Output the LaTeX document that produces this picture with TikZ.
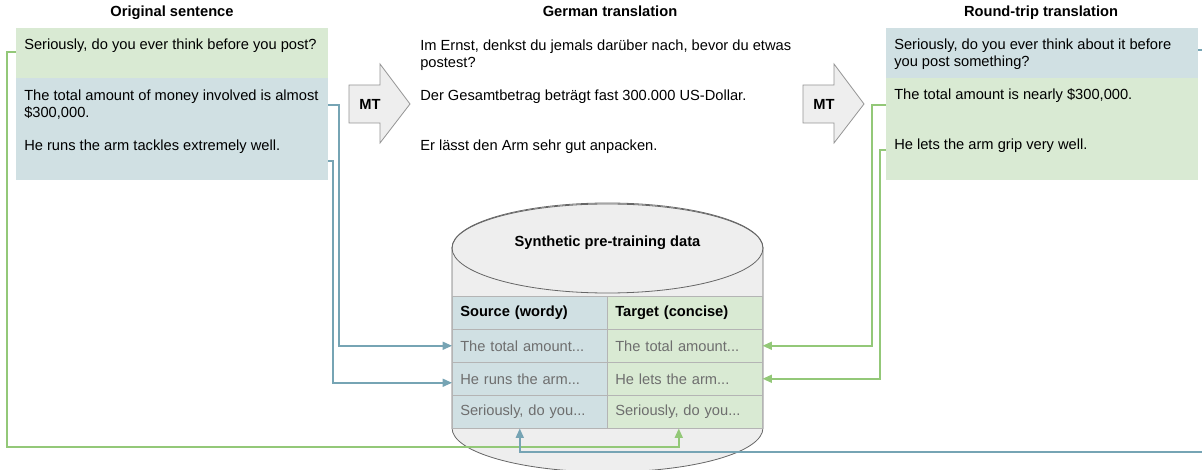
\documentclass[tikz,border=0pt]{standalone}
\usepackage{fontspec}
\setmainfont{Liberation Sans}
\usepackage{tikz}
\usetikzlibrary{arrows.meta}
\definecolor{bluebox}{RGB}{208, 224, 227}
\definecolor{greenbox}{RGB}{217, 234, 211}
\definecolor{blueline}{RGB}{118, 164, 180}
\definecolor{greenline}{RGB}{147, 200, 120}
\definecolor{cyl}{RGB}{238, 238, 238}
\definecolor{edge}{RGB}{102, 102, 102}
\definecolor{grid}{RGB}{180, 180, 180}
\definecolor{faded}{RGB}{110, 110, 110}

\begin{document}
\begin{tikzpicture}[x=0.75pt, y=-0.75pt, font=\fontsize{11}{12.75}\selectfont,
  txt/.style={anchor=base west, inner sep=0pt, align=left},
  head/.style={anchor=base, inner sep=0pt, font=\fontsize{11}{12}\selectfont\bfseries},
  cell/.style={anchor=north west, draw=grid, minimum height=24.75pt, text width=104.25pt,
    inner xsep=6pt, align=left, text=faded},
  link/.style={line width=1.2pt, -{Triangle[length=7pt, width=6pt]}}]
  \clip (0,0) rectangle (1202,470);

  % Titles
  \node [head] (t1) at (172,17) {Original sentence};
  \node [head] (t2) at (610,17) {German translation};
  \node [head] (t3) at (1041,17) {Round-trip translation};

  % Original
  \fill [greenbox] (16,28) rectangle (328,78);
  \fill [bluebox] (16,78) rectangle (328,180);
  \node [txt] (o1t) at (24,50) {Seriously, do you ever think before you post?};
  \node [txt, anchor=north west] (o2t) at (24,89.5) {The total amount of money involved is almost\\\$300,000.};
  \node [txt] (o3t) at (24,151) {He runs the arm tackles extremely well.};

  % MT arrows
  \filldraw [fill=cyl, draw=edge!70, line width=0.6pt] (349,85) -- (380,85) -- (380,64) -- (410,104)
    -- (380,143) -- (380,123) -- (349,123) -- cycle;
  \node [head, anchor=center] (mt1) at (370,104) {MT};
  \filldraw [fill=cyl, draw=edge!70, line width=0.6pt] (803,85) -- (834,85) -- (834,64) -- (864,104)
    -- (834,143) -- (834,123) -- (803,123) -- cycle;
  \node [head, anchor=center] (mt2) at (824,104) {MT};

  % German
  \node [txt, anchor=north west] (g1t) at (420,39.5) {Im Ernst, denkst du jemals darüber nach, bevor du etwas\\postest?};
  \node [txt] (g2t) at (420,101) {Der Gesamtbetrag beträgt fast 300.000 US-Dollar.};
  \node [txt] (g3t) at (420,151) {Er lässt den Arm sehr gut anpacken.};

  % Round trip
  \fill [bluebox] (886,28) rectangle (1198,78);
  \fill [greenbox] (886,78) rectangle (1198,180);
  \node [txt, anchor=north west] (r1t) at (894,38.5) {Seriously, do you ever think about it before\\you post something?};
  \node [txt] (r2t) at (894,100) {The total amount is nearly \$300,000.};
  \node [txt] (r3t) at (894,150) {He lets the arm grip very well.};

  % Cylinder
  \filldraw [fill=cyl, draw=edge, line width=0.6pt] (452,248) -- (452,428)
    arc [start angle=180, end angle=0, x radius=155.5, y radius=44] -- (763,248)
    arc [start angle=0, end angle=-180, x radius=155.5, y radius=44] -- cycle;
  \draw [draw=edge, line width=0.6pt] (607.5,248) ellipse [x radius=155.5, y radius=45];
  \node [head] (db) at (607.5,247) {Synthetic pre-training data};

  \node [cell, fill=bluebox, text=black, font=\fontsize{11}{12}\selectfont\bfseries] (src0) at (452,296) {Source (wordy)};
  \node [cell, fill=bluebox] (src1) at (452,329) {The total amount...};
  \node [cell, fill=bluebox] (src2) at (452,362) {He runs the arm...};
  \node [cell, fill=bluebox] (src3) at (452,395) {Seriously, do you...};
  \node [cell, fill=greenbox, text=black, font=\fontsize{11}{12}\selectfont\bfseries] (tgt0) at (607,296) {Target (concise)};
  \node [cell, fill=greenbox] (tgt1) at (607,329) {The total amount...};
  \node [cell, fill=greenbox] (tgt2) at (607,362) {He lets the arm...};
  \node [cell, fill=greenbox] (tgt3) at (607,395) {Seriously, do you...};

  % Links
  \coordinate (o1) at (16,52);
  \coordinate (o2) at (328,105);
  \coordinate (o3) at (328,161);
  \coordinate (r1) at (1198,50);
  \coordinate (r2) at (886,105);
  \coordinate (r3) at (886,150);

  \draw [link, blueline] (o2) -- ++(11,0) |- (src1.west);
  \draw [link, blueline] (o3) -- ++(5,0) |- ([yshift=-3pt]src2.west);
  \draw [link, greenline] (r2) -- ++(-14,0) |- (tgt1.east);
  \draw [link, greenline] (r3) -- ++(-6,0) |- (tgt2.east);
  \draw [link, greenline] (o1) -- ++(-9,0) -- ++(0,395) -| ([xshift=-4.5pt]tgt3.south);
  \draw [link, blueline] (r1) -- ++(20,0) -- ++(0,402) -| ([xshift=-7.5pt]src3.south);
\end{tikzpicture}
\end{document}
